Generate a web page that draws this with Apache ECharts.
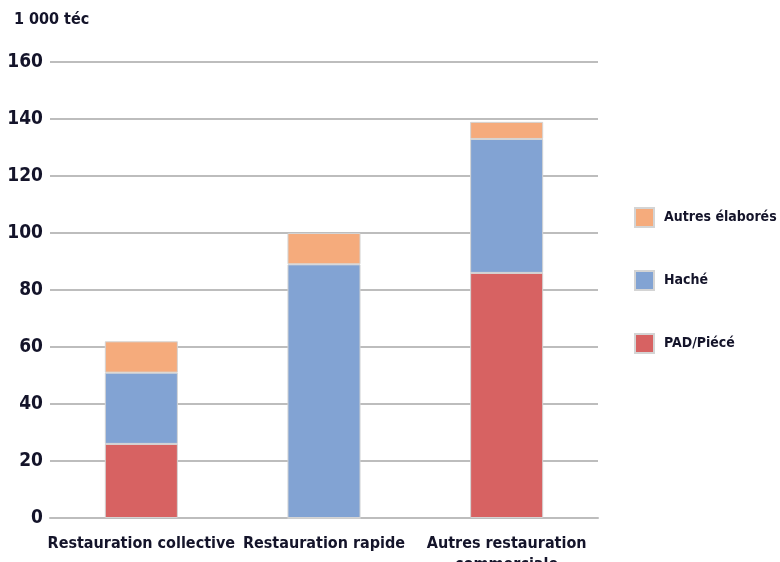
<!DOCTYPE html>
<html>
<head>
<meta charset="utf-8">
<script src="https://cdn.jsdelivr.net/npm/echarts@6/dist/echarts.min.js"></script>
<style>
  html, body { margin: 0; padding: 0; background: #fff; }
  #chart { width: 780px; height: 562px; }
</style>
</head>
<body>
<div id="chart"></div>
<script>
// Consumption by out-of-home catering segment (1 000 téc)
const categories = ['Restauration collective', 'Restauration rapide', 'Autres restauration\ncommerciale'];
const padPiece = [26, 0, 86];
const hache = [25, 89, 47];
const autresElabores = [11, 11, 6];
const unitLabel = '1 000 téc';

const FONT = '"Liberation Sans Narrow", "DejaVu Sans Condensed", sans-serif';
const TEXT = '#14142a';
const GRID = '#bdbdbd';

const chart = echarts.init(document.getElementById('chart'), null, { renderer: 'canvas' });

const barStyle = (color) => ({ color: color, borderColor: '#d4d4d4', borderWidth: 1 });

chart.setOption({
  animation: false,
  backgroundColor: '#ffffff',
  textStyle: { fontFamily: FONT },
  title: {
    text: unitLabel,
    left: 14, top: 12, padding: 0,
    textStyle: { fontFamily: FONT, fontWeight: 'bold', fontSize: 16, color: TEXT }
  },
  legend: {
    orient: 'vertical',
    left: 634, top: 207, padding: 0,
    itemWidth: 19, itemHeight: 19,
    itemGap: 42,
    icon: 'rect',
    data: ['Autres élaborés', 'Haché', 'PAD/Piécé'],
    textStyle: { fontFamily: FONT, fontWeight: 'bold', fontSize: 14, lineHeight: 19, color: TEXT, padding: [0, 0, 0, 5] }
  },
  grid: { left: 50, right: 182, top: 62, bottom: 44, containLabel: false, outerBoundsMode: 'none' },
  xAxis: {
    type: 'category',
    data: categories,
    axisLine: { show: true, lineStyle: { color: GRID, width: 2 } },
    axisTick: { show: false },
    axisLabel: {
      fontFamily: FONT, fontWeight: 'bold', fontSize: 16, color: TEXT,
      margin: 15, lineHeight: 21, interval: 0
    }
  },
  yAxis: {
    type: 'value',
    min: 0, max: 160, interval: 20,
    axisLine: { show: false },
    axisTick: { show: false },
    splitLine: { show: true, lineStyle: { color: GRID, width: 2 } },
    axisLabel: { fontFamily: FONT, fontWeight: 'bold', fontSize: 19, color: TEXT, margin: 7 }
  },
  series: [
    { name: 'PAD/Piécé', type: 'bar', stack: 'total', data: padPiece, barWidth: '40%', itemStyle: barStyle('#d76262') },
    { name: 'Haché', type: 'bar', stack: 'total', data: hache, barWidth: '40%', itemStyle: barStyle('#82a3d3') },
    { name: 'Autres élaborés', type: 'bar', stack: 'total', data: autresElabores, barWidth: '40%', itemStyle: barStyle('#f5ab7c') }
  ]
});
</script>
</body>
</html>
